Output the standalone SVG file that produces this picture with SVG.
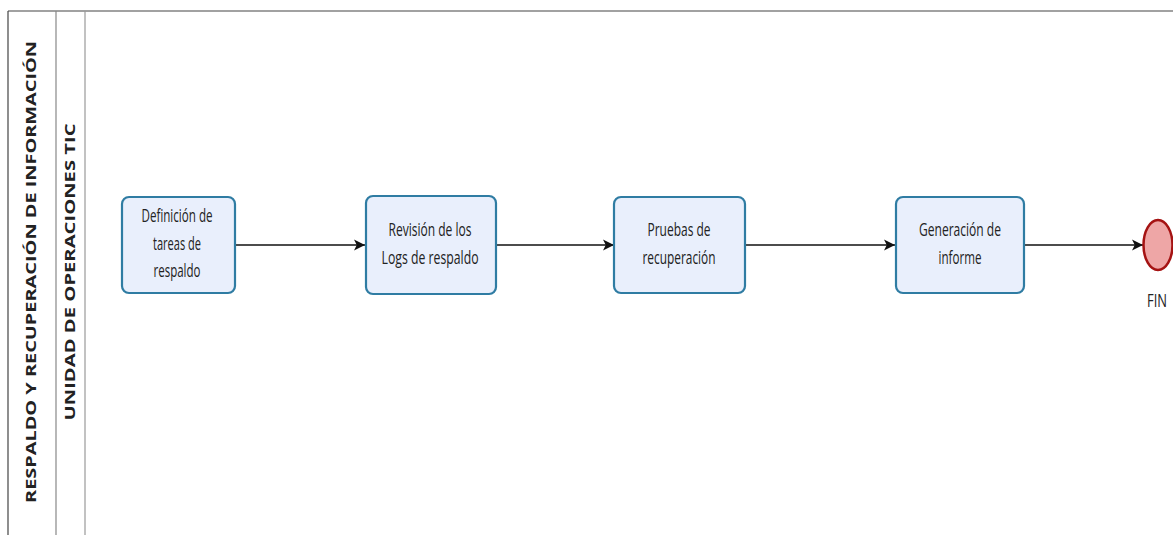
<svg xmlns="http://www.w3.org/2000/svg" width="1173" height="535" viewBox="0 0 1173 535">
<style>
.task{fill:#e9effc;stroke:#2f7ca3;stroke-width:2.2}
.t{font-family:"Open Sans","DejaVu Sans",sans-serif;font-size:17.5px;fill:#222;text-anchor:middle}
.lane{font-family:"Open Sans","DejaVu Sans",sans-serif;font-size:14px;font-weight:bold;fill:#222;text-anchor:middle}
.c{stroke:#111;stroke-width:1.6;fill:none;marker-end:url(#arr)}
</style>
<defs>
<marker id="arr" viewBox="0 0 10 10" refX="10" refY="5" markerWidth="11" markerHeight="12" markerUnits="userSpaceOnUse" orient="auto">
<path d="M0,0 L10,5 L0,10 L2.5,5 Z" fill="#111"/>
</marker>
</defs>
<rect width="1173" height="535" fill="#fff"/>
<g id="pool">
<line x1="8" y1="11" x2="1173" y2="11" stroke="#444" stroke-width="1.2"/>
<line x1="8" y1="11" x2="8" y2="535" stroke="#444" stroke-width="1.2"/>
<line x1="56" y1="11" x2="56" y2="535" stroke="#888" stroke-width="1.2"/>
<line x1="85" y1="11" x2="85" y2="535" stroke="#999" stroke-width="1.2"/>
<text class="lane" transform="translate(36,272) rotate(-90)" textLength="462" lengthAdjust="spacingAndGlyphs">RESPALDO Y RECUPERACIÓN DE INFORMACIÓN</text>
<text class="lane" transform="translate(75,272) rotate(-90)" textLength="297" lengthAdjust="spacingAndGlyphs">UNIDAD DE OPERACIONES TIC</text>
</g>
<g id="connectors">
<line class="c" x1="235" y1="245" x2="365" y2="245"/>
<line class="c" x1="496" y1="245" x2="614" y2="245"/>
<line class="c" x1="745" y1="245" x2="895" y2="245"/>
<line class="c" x1="1024" y1="245" x2="1143" y2="245"/>
</g>
<g id="task1">
<rect class="task" x="122" y="197" width="113" height="96" rx="7"/>
<text class="t" x="177" y="222" textLength="71" lengthAdjust="spacingAndGlyphs">Definición de</text>
<text class="t" x="177" y="250" textLength="48" lengthAdjust="spacingAndGlyphs">tareas de</text>
<text class="t" x="177" y="277" textLength="47" lengthAdjust="spacingAndGlyphs">respaldo</text>
</g>
<g id="task2">
<rect class="task" x="366" y="196" width="130" height="98" rx="7"/>
<text class="t" x="430" y="236" textLength="83" lengthAdjust="spacingAndGlyphs">Revisión de los</text>
<text class="t" x="430" y="264" textLength="97" lengthAdjust="spacingAndGlyphs">Logs de respaldo</text>
</g>
<g id="task3">
<rect class="task" x="614" y="197" width="131" height="96" rx="7"/>
<text class="t" x="679" y="236" textLength="63" lengthAdjust="spacingAndGlyphs">Pruebas de</text>
<text class="t" x="679" y="264" textLength="73" lengthAdjust="spacingAndGlyphs">recuperación</text>
</g>
<g id="task4">
<rect class="task" x="896" y="197" width="128" height="96" rx="7"/>
<text class="t" x="960" y="236" textLength="82" lengthAdjust="spacingAndGlyphs">Generación de</text>
<text class="t" x="960" y="264" textLength="43" lengthAdjust="spacingAndGlyphs">informe</text>
</g>
<g id="fin">
<ellipse cx="1158" cy="245" rx="14.5" ry="25" fill="#eea6a6" stroke="#a51313" stroke-width="2.5"/>
<text class="t" x="1157" y="307" textLength="20" lengthAdjust="spacingAndGlyphs">FIN</text>
</g>
</svg>
